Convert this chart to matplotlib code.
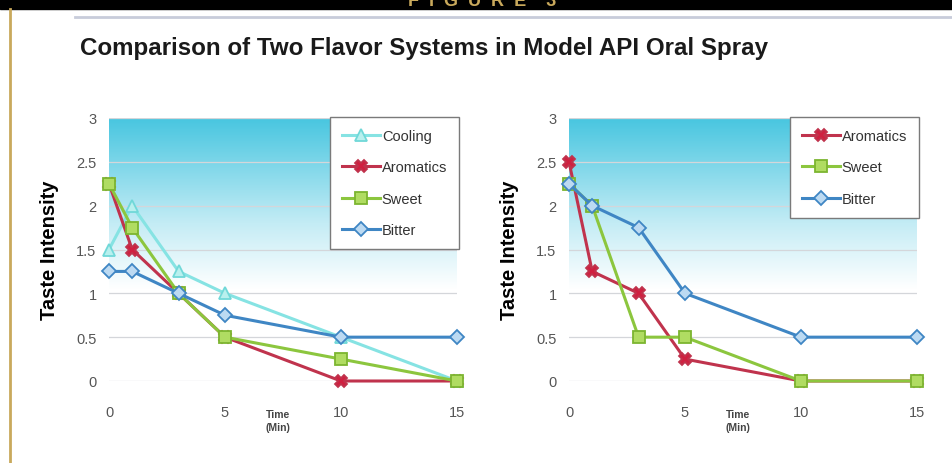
import numpy as np
import matplotlib
matplotlib.use("Agg")
import matplotlib.pyplot as plt
from matplotlib.patches import Rectangle
from matplotlib.lines import Line2D
from matplotlib.colors import LinearSegmentedColormap

plt.rcParams['font.family'] = ['Liberation Sans', 'DejaVu Sans']

# data
time = [0, 1, 3, 5, 10, 15]

# left chart
cooling_l = [1.5, 2.0, 1.25, 1.0, 0.5, 0.0]
aromatics_l = [2.25, 1.5, 1.0, 0.5, 0.0, 0.0]
sweet_l = [2.25, 1.75, 1.0, 0.5, 0.25, 0.0]
bitter_l = [1.25, 1.25, 1.0, 0.75, 0.5, 0.5]

# right chart
aromatics_r = [2.5, 1.25, 1.0, 0.25, 0.0, 0.0]
sweet_r = [2.25, 2.0, 0.5, 0.5, 0.0, 0.0]
bitter_r = [2.25, 2.0, 1.75, 1.0, 0.5, 0.5]

yticks = [0, 0.5, 1, 1.5, 2, 2.5, 3]
ytick_labels = ['0', '0.5', '1', '1.5', '2', '2.5', '3']
xticks = [0, 5, 10, 15]

styles = {
    'Cooling': dict(color='#86e3e3', marker='^', mfc='#b8f0ee', mec='#70d8d8', ms=9),
    'Aromatics': dict(color='#c0334d', marker='X', mfc='#d02040', mec='#c0334d', ms=9),
    'Sweet': dict(color='#8cc63e', marker='s', mfc='#b0dc62', mec='#7cb530', ms=8.5),
    'Bitter': dict(color='#3f86c4', marker='D', mfc='#bcdaf2', mec='#3f86c4', ms=7),
}

W, H = 952, 464
fig = plt.figure(figsize=(W / 100, H / 100), dpi=100)

# frame decorations
fig.patches.append(Rectangle((0, 1 - 10 / H), 1, 10 / H, transform=fig.transFigure,
                             color='black', zorder=0))
fig.add_artist(Line2D([10 / W, 10 / W], [0, 1 - 10 / H], transform=fig.transFigure,
                      color='#c9a95c', lw=2))
fig.add_artist(Line2D([75 / W, 1], [1 - 18 / H, 1 - 18 / H], transform=fig.transFigure,
                      color='#c8ccda', lw=2))
fig.text(482 / W, 1 - 1 / H, 'F  I  G  U  R  E    3', color='#c9a95c', fontsize=13,
         fontweight='bold', ha='center', va='center')

fig.text(80 / W, 1 - 48 / H, 'Comparison of Two Flavor Systems in Model API Oral Spray',
         fontsize=17.4, fontweight='bold', color='#1a1a1a', ha='left', va='center')

grad_cmap = LinearSegmentedColormap.from_list(
    'bg', [(0.0, '#ffffff'), (0.35, '#ffffff'), (0.6, '#c4ecf5'), (1.0, '#48c6e0')])


def panel(left_px, series):
    ax = fig.add_axes([left_px / W, 1 - 382 / H, 348 / W, 263 / H])
    grad = np.linspace(0, 1, 256).reshape(-1, 1)
    ax.imshow(grad, extent=[0, 15, 0, 3], origin='lower', aspect='auto',
              cmap=grad_cmap, zorder=0)
    for yv in yticks:
        ax.axhline(yv, color='#d4d6da', lw=0.9, zorder=1)
    for name, vals in series:
        st = styles[name]
        ax.plot(time, vals, color=st['color'], lw=2.2, marker=st['marker'],
                markersize=st['ms'], markerfacecolor=st['mfc'],
                markeredgecolor=st['mec'], markeredgewidth=1.3,
                label=name, zorder=3, clip_on=False)
    ax.set_xlim(0, 15)
    ax.set_ylim(0, 3)
    ax.set_yticks(yticks)
    ax.set_yticklabels(ytick_labels)
    ax.set_xticks(xticks)
    for s in ax.spines.values():
        s.set_visible(False)
    ax.tick_params(length=0, labelsize=10.5, labelcolor='#555555')
    ax.tick_params(axis='y', pad=9)
    ax.tick_params(axis='x', pad=17)
    ax.set_ylabel('Taste Intensity', fontsize=14.5, fontweight='bold', labelpad=12)
    ax.text(7.3, -0.45, 'Time\n(Min)', fontsize=7.5, fontweight='bold', color='#444444',
            ha='center', va='center', linespacing=1.4)
    leg = ax.legend(loc='upper left', bbox_to_anchor=(0.635, 1.003), fontsize=10.5,
                    frameon=True, fancybox=False, edgecolor='#7a7a7a',
                    facecolor='white', framealpha=1, handlelength=2.6,
                    labelspacing=1.2, borderpad=0.8, handletextpad=0.15,
                    borderaxespad=0)
    leg.get_frame().set_linewidth(1.0)
    for t in leg.get_texts():
        t.set_color('#333333')
    return ax


panel(109, [('Cooling', cooling_l), ('Aromatics', aromatics_l),
            ('Sweet', sweet_l), ('Bitter', bitter_l)])
panel(569, [('Aromatics', aromatics_r), ('Sweet', sweet_r), ('Bitter', bitter_r)])

fig.savefig('out.png', dpi=100)
